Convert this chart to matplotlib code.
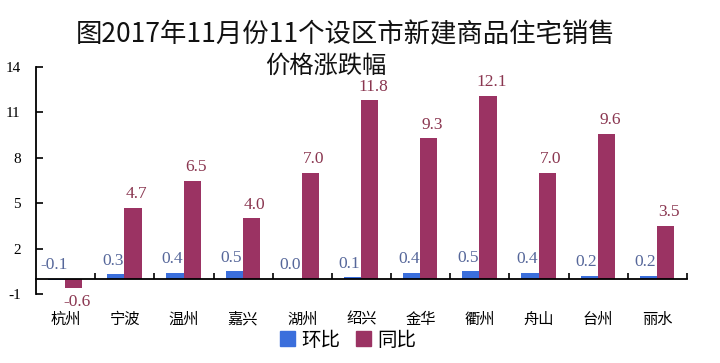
import matplotlib
matplotlib.use("Agg")
import matplotlib.pyplot as plt
import numpy as np
from matplotlib.patches import Patch

cities = ["杭州", "宁波", "温州", "嘉兴", "湖州", "绍兴", "金华", "衢州", "舟山", "台州", "丽水"]
mom = [-0.1, 0.3, 0.4, 0.5, 0.0, 0.1, 0.4, 0.5, 0.4, 0.2, 0.2]
yoy = [-0.6, 4.7, 6.5, 4.0, 7.0, 11.8, 9.3, 12.1, 7.0, 9.6, 3.5]
yticks = [-1, 2, 5, 8, 11, 14]
series_names = ["环比", "同比"]

blue = "#3b6fdc"
maroon = "#9b3363"
blue_txt = "#56679a"
maroon_txt = "#8a3650"
cjk = ["Noto Sans CJK SC", "DejaVu Sans"]

fig = plt.figure(figsize=(7.2, 3.63), dpi=100)
ax = fig.add_axes([0.05, 0.19, 0.904, 0.6254])

x = np.arange(len(cities))
w = 0.29
ax.bar(x - w / 2 - 0.005, mom, width=w, color=blue)
ax.bar(x + w / 2 - 0.005, yoy, width=w, color=maroon)

for xi, v in zip(x, mom):
    ax.annotate(f"{v:.1f}", (xi - 0.2, max(v, 0)), xytext=(0, 4), textcoords="offset points",
                ha="center", va="bottom", color=blue_txt, fontsize=12.5,
                family="Liberation Serif")
for xi, v in zip(x, yoy):
    if v >= 0:
        ax.annotate(f"{v:.1f}", (xi + 0.2, v), xytext=(0, 4), textcoords="offset points",
                    ha="center", va="bottom", color=maroon_txt, fontsize=12.5,
                    family="Liberation Serif")
    else:
        ax.annotate(f"{v:.1f}", (xi + 0.2, v), xytext=(0, -4), textcoords="offset points",
                    ha="center", va="top", color=maroon_txt, fontsize=12.5,
                    family="Liberation Serif")

ax.set_xlim(-0.5, len(cities) - 0.5)
ax.set_ylim(-1, 14)
ax.set_yticks(yticks)
ax.set_yticklabels([str(t) for t in yticks], family="Liberation Serif", fontsize=11)
ax.tick_params(axis="y", direction="in", length=5, width=1.2, pad=11)

ax.spines["top"].set_visible(False)
ax.spines["right"].set_visible(False)
ax.spines["left"].set_linewidth(1.3)
ax.spines["bottom"].set_position(("data", 0))
ax.spines["bottom"].set_linewidth(1.3)

ax.set_xticks(x)
ax.set_xticklabels(cities, family=cjk, fontsize=11)
ax.tick_params(axis="x", which="major", length=0, pad=23)
ax.set_xticks(np.arange(0.5, len(cities) - 0.4, 1.0), minor=True)
ax.tick_params(axis="x", which="minor", direction="in", length=4, width=1.2)

fig.text(346 / 720, 1 - 35 / 363, "图2017年11月份11个设区市新建商品住宅销售",
         ha="center", va="center", fontsize=19, family=cjk, color="#111111")
fig.text(326 / 720, 1 - 66 / 363, "价格涨跌幅",
         ha="center", va="center", fontsize=17.5, family=cjk, color="#111111")

handles = [Patch(color=blue), Patch(color=maroon)]
fig.legend(handles, series_names, loc="center", bbox_to_anchor=(348 / 720, 1 - 340 / 363),
           ncol=2, frameon=False, prop={"family": cjk, "size": 14},
           handlelength=0.8, handleheight=0.8, handletextpad=0.3, columnspacing=0.8,
           borderpad=0.1)

fig.savefig("out.png", dpi=100)
